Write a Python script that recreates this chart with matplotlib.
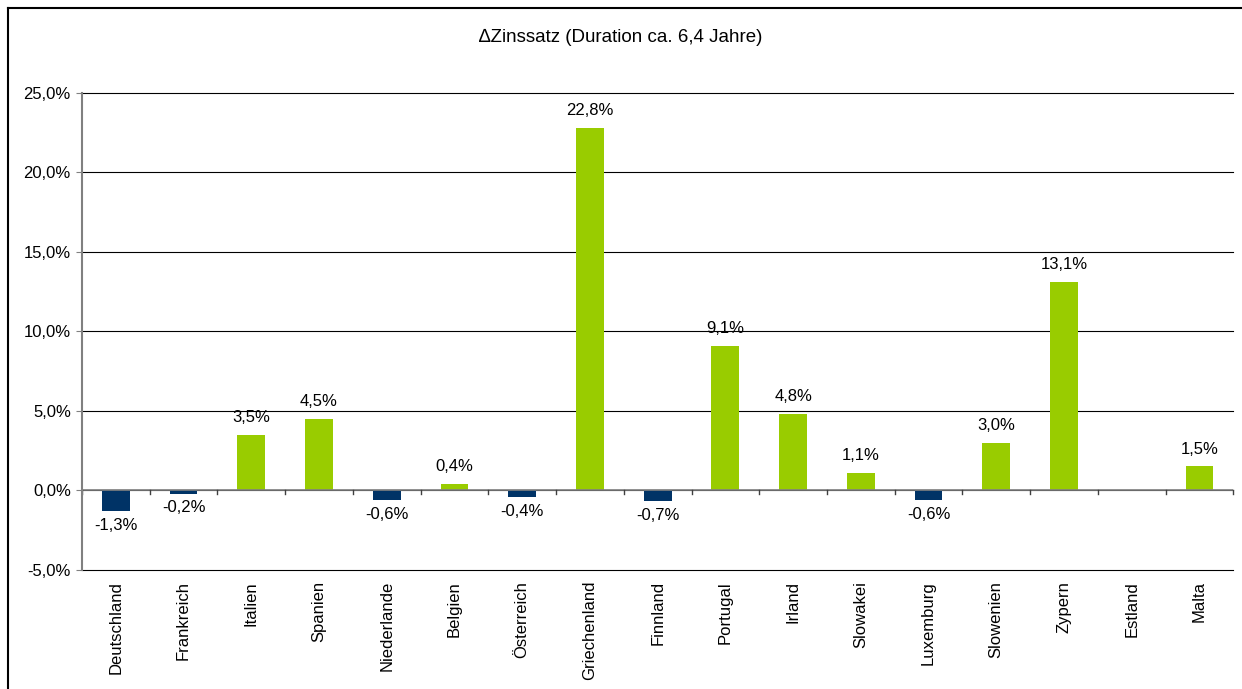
import numpy as np
import matplotlib.pyplot as plt
from matplotlib.lines import Line2D

plt.rcParams['font.family'] = ['Liberation Sans', 'DejaVu Sans']

# Zinsänderung je Land in Prozent (Estland ohne Wert)
laender = ['Deutschland', 'Frankreich', 'Italien', 'Spanien', 'Niederlande', 'Belgien',
           'Österreich', 'Griechenland', 'Finnland', 'Portugal', 'Irland', 'Slowakei',
           'Luxemburg', 'Slowenien', 'Zypern', 'Estland', 'Malta']
delta_zins = [-1.3, -0.2, 3.5, 4.5, -0.6, 0.4, -0.4, 22.8, -0.7, 9.1, 4.8, 1.1,
              -0.6, 3.0, 13.1, np.nan, 1.5]
y_ticks = [-5, 0, 5, 10, 15, 20, 25]

gruen = '#99CC00'
blau = '#003366'
fs = 12

fig = plt.figure(figsize=(12.42, 6.89), dpi=100)
ax = fig.add_axes([0.066, 0.173, 0.927, 0.692])

x = np.arange(len(laender))
werte = np.array(delta_zins, dtype=float)
farben = [blau if v < 0 else gruen for v in np.nan_to_num(werte)]
ax.bar(x, np.nan_to_num(werte), width=0.41, color=farben, zorder=3)

def fmt(v):
    return f'{v:.1f}%'.replace('.', ',')

for xi, v in zip(x, werte):
    if np.isnan(v):
        continue
    if v >= 0:
        ax.annotate(fmt(v), (xi, v), xytext=(0, 7), textcoords='offset points',
                    ha='center', va='bottom', fontsize=fs)
    else:
        ax.annotate(fmt(v), (xi, v), xytext=(0, -5), textcoords='offset points',
                    ha='center', va='top', fontsize=fs)

ax.set_xlim(-0.5, len(laender) - 0.5)
ax.set_ylim(-5, 25)
ax.set_yticks(y_ticks)
ax.set_yticklabels([fmt(t) for t in y_ticks], fontsize=fs)
ax.tick_params(axis='y', length=4, color='#808080', pad=4)
for t in y_ticks:
    ax.axhline(t, color='black', linewidth=0.8, zorder=0, clip_on=False)

# Kategorien unterhalb der Grafik, Nulllinie mit Teilstrichen
ax.set_xticks([])
for xi, name in zip(x, laender):
    ax.text(xi, -5.7, name, rotation=90, ha='center', va='top', fontsize=fs)
ax.axhline(0, color='#808080', linewidth=1.2, zorder=4)
for b in np.arange(len(laender) + 1) - 0.5:
    ax.plot([b, b], [0, -0.25], color='#404040', linewidth=1, zorder=4, clip_on=False)

for s in ['top', 'right', 'bottom']:
    ax.spines[s].set_visible(False)
ax.spines['left'].set_color('#808080')
ax.spines['left'].set_linewidth(1.5)
ax.spines['left'].set_zorder(5)

fig.text(0.5, 0.945, '\u2206Zinssatz (Duration ca. 6,4 Jahre)', ha='center', va='center',
         fontsize=13.5)

# Rahmen links und oben
fig.add_artist(Line2D([0.0065, 0.0065], [0, 0.9885], color='black', linewidth=1.5,
                      transform=fig.transFigure))
fig.add_artist(Line2D([0.0065, 1], [0.9885, 0.9885], color='black', linewidth=1.5,
                      transform=fig.transFigure))

fig.savefig('out.png', dpi=100)
